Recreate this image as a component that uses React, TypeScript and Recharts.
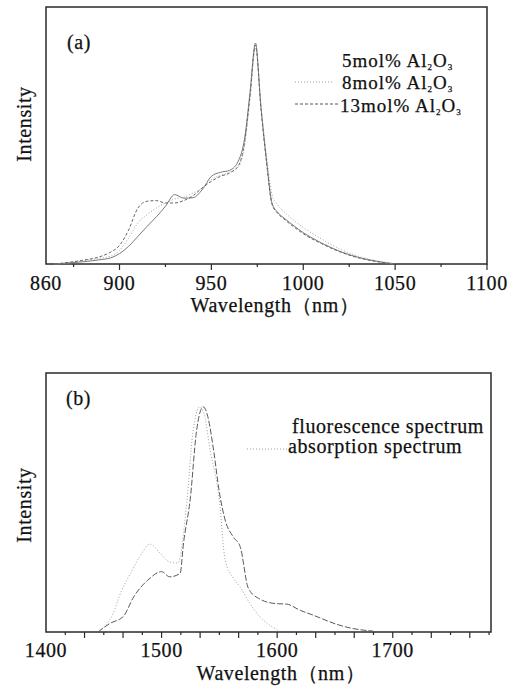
import { LineChart, Line, XAxis, YAxis, Customized } from 'recharts';

// (a) Yb emission for three Al2O3 contents
const wlA = [865, 870, 880, 890, 895, 900, 905, 910, 915, 920, 925, 930, 935, 940, 945, 950, 955, 960, 965, 968, 971, 974, 977, 980, 983, 986, 990, 995, 1000, 1010, 1020, 1030, 1040, 1050];
const al5 = [0, 0.003, 0.01, 0.02, 0.027, 0.047, 0.08, 0.125, 0.17, 0.213, 0.261, 0.314, 0.298, 0.3, 0.336, 0.397, 0.415, 0.424, 0.472, 0.563, 0.774, 1.0, 0.71, 0.47, 0.276, 0.235, 0.205, 0.172, 0.142, 0.095, 0.057, 0.03, 0.012, 0];
const al8 = [0, 0.004, 0.014, 0.027, 0.035, 0.062, 0.118, 0.186, 0.223, 0.253, 0.276, 0.294, 0.303, 0.321, 0.344, 0.382, 0.401, 0.415, 0.442, 0.533, 0.744, 0.98, 0.72, 0.49, 0.314, 0.268, 0.233, 0.196, 0.165, 0.113, 0.068, 0.035, 0.015, 0.002];
const al13 = [0, 0.005, 0.017, 0.035, 0.053, 0.084, 0.155, 0.253, 0.284, 0.287, 0.276, 0.276, 0.287, 0.309, 0.344, 0.374, 0.397, 0.412, 0.449, 0.548, 0.759, 0.99, 0.7, 0.46, 0.27, 0.23, 0.2, 0.167, 0.137, 0.092, 0.055, 0.028, 0.011, 0];
const ticksA = [860, 875, 900, 925, 950, 975, 1000, 1025, 1050, 1075, 1100];
const majorA = [900, 950, 1000, 1050, 1100];
const labelsA = [860, 900, 950, 1000, 1050, 1100];
const namesA = ['5mol%', '8mol%', '13mol%'];

// (b) Er fluorescence / absorption
const fluoWl = [1445, 1455, 1467, 1476, 1488, 1500, 1507, 1516, 1519, 1525, 1530, 1536, 1540, 1545, 1550, 1555, 1562, 1568, 1575, 1584, 1599, 1608, 1620, 1631, 1651, 1663, 1683];
const fluoI = [0, 0.037, 0.07, 0.157, 0.23, 0.268, 0.245, 0.26, 0.395, 0.6, 0.883, 1.0, 0.956, 0.807, 0.62, 0.497, 0.422, 0.379, 0.195, 0.149, 0.126, 0.124, 0.096, 0.075, 0.035, 0.018, 0.004];
const absWl = [1446, 1458, 1465, 1473, 1481, 1490, 1499, 1507, 1514, 1522, 1527, 1533, 1537, 1542, 1550, 1555, 1562, 1568, 1576, 1585, 1595, 1602];
const absI = [0.007, 0.081, 0.179, 0.259, 0.333, 0.39, 0.348, 0.311, 0.306, 0.586, 0.883, 1.0, 0.963, 0.807, 0.586, 0.32, 0.24, 0.2, 0.13, 0.068, 0.025, 0.005];
const ticksB = [1400, 1416.67, 1433.33, 1450, 1466.67, 1483.33, 1500, 1516.67, 1533.33, 1550, 1566.67, 1583.33, 1600, 1616.67, 1633.33, 1650, 1666.67, 1683.33, 1700, 1716.67, 1733.33, 1750, 1766.67, 1783.33];
const majorB = [1433.33, 1466.67, 1500, 1533.33, 1566.67, 1600, 1633.33, 1666.67, 1700, 1733.33, 1766.67];
const labelsB = [1400, 1500, 1600, 1700];
const namesB = ['fluorescence spectrum', 'absorption spectrum'];

const FONT = '"Liberation Serif", "Times New Roman", serif';
const INK = '#111';
const FRAME = '#2a2a2a';

const dataA = wlA.map((w, i) => ({ w, a5: al5[i], a8: al8[i], a13: al13[i] }));
const fluoData = fluoWl.map((w, i) => ({ w, v: fluoI[i] }));
const absData = absWl.map((w, i) => ({ w, v: absI[i] }));

const near = (list: number[], v: number) => list.some((m) => Math.abs(m - v) < 0.01);

const txt = { fontFamily: FONT, fontSize: 20, fill: INK, stroke: INK, strokeWidth: 0.25, letterSpacing: 0.6 };
const legTxt = { ...txt, fontSize: 19, letterSpacing: 1 };

const makeTick = (majors: number[], labels: number[], start: number, dy: number) => (props: any) => {
  const { x, y, payload } = props;
  const v = payload.value;
  return (
    <g>
      {v !== start && (
        <line x1={x} x2={x} y1={y} y2={y + (near(majors, v) ? 6 : 3)} stroke={FRAME} strokeWidth={1.2} />
      )}
      {near(labels, v) && (
        <text x={x} y={y + dy} textAnchor="middle" {...txt}>
          {Math.round(v)}
        </text>
      )}
    </g>
  );
};

const AlLabel = ({ x, y, pct }: { x: number; y: number; pct: string }) => (
  <text x={x} y={y} {...legTxt}>
    {pct} Al<tspan dy={3} fontSize={9}>2</tspan>
    <tspan dy={-3}>O</tspan>
    <tspan dy={3} fontSize={9}>3</tspan>
  </text>
);

const OverlayA = () => (
  <g>
    <rect x={46} y={7} width={441} height={257} fill="none" stroke={FRAME} strokeWidth={1.5} />
    <text x={67} y={49} {...txt}>(a)</text>
    <text x={31} y={124} textAnchor="middle" transform="rotate(-90, 31, 124)" {...txt}>Intensity</text>
    <text x={275} y={312} textAnchor="middle" {...txt}>Wavelength（nm）</text>
    <AlLabel x={342} y={67} pct={namesA[0]} />
    <line x1={295} x2={333} y1={82} y2={82} stroke="#9a9a9a" strokeDasharray="1 2" />
    <AlLabel x={342} y={89} pct={namesA[1]} />
    <line x1={295} x2={338} y1={104} y2={104} stroke="#555" strokeDasharray="3 2" />
    <AlLabel x={340} y={112} pct={namesA[2]} />
  </g>
);

const OverlayB = () => (
  <g>
    <rect x={46} y={28} width={445} height={259} fill="none" stroke={FRAME} strokeWidth={1.5} />
    <text x={66} y={60} {...txt}>(b)</text>
    <text x={31} y={160} textAnchor="middle" transform="rotate(-90, 31, 160)" {...txt}>Intensity</text>
    <text x={281} y={335} textAnchor="middle" {...txt}>Wavelength（nm）</text>
    <text x={292} y={88} {...txt}>{namesB[0]}</text>
    <line x1={247} x2={287} y1={104} y2={104} stroke="#9a9a9a" strokeDasharray="1 2" />
    <text x={288} y={108} {...txt}>{namesB[1]}</text>
  </g>
);

export default function App() {
  return (
    <div style={{ position: 'fixed', left: 0, top: 0, width: 510, height: 690, background: '#fff' }}>
      <div style={{ position: 'absolute', left: 0, top: 0 }}>
        <LineChart width={510} height={340} data={dataA} margin={{ top: 7, right: 23, bottom: 46, left: 46 }}>
          <XAxis
            dataKey="w"
            type="number"
            domain={[860, 1100]}
            ticks={ticksA}
            interval={0}
            height={30}
            tickSize={0}
            tickMargin={0}
            tickLine={false}
            axisLine={false}
            tick={makeTick(majorA, labelsA, 860, 26)}
          />
          <YAxis domain={[0, 1.163]} hide />
          <Line name="5mol% Al2O3" dataKey="a5" type="monotone" stroke="#7a7a7a" strokeWidth={1} dot={false} isAnimationActive={false} />
          <Line name="8mol% Al2O3" dataKey="a8" type="monotone" stroke="#a0a0a0" strokeWidth={1} strokeDasharray="1 2" dot={false} isAnimationActive={false} />
          <Line name="13mol% Al2O3" dataKey="a13" type="monotone" stroke="#666" strokeWidth={1} strokeDasharray="3 2" dot={false} isAnimationActive={false} />
          <Customized component={OverlayA} />
        </LineChart>
      </div>
      <div style={{ position: 'absolute', left: 0, top: 345 }}>
        <LineChart width={510} height={345} margin={{ top: 28, right: 19, bottom: 28, left: 46 }}>
          <XAxis
            dataKey="w"
            type="number"
            domain={[1400, 1785]}
            ticks={ticksB}
            interval={0}
            height={30}
            tickSize={0}
            tickMargin={0}
            tickLine={false}
            axisLine={false}
            allowDuplicatedCategory={false}
            tick={makeTick(majorB, labelsB, 1400, 25)}
          />
          <YAxis domain={[0, 1.15]} hide />
          <Line name="fluorescence spectrum" data={fluoData} dataKey="v" type="monotone" stroke="#5a5a5a" strokeWidth={1} strokeDasharray="6 2" dot={false} isAnimationActive={false} />
          <Line name="absorption spectrum" data={absData} dataKey="v" type="monotone" stroke="#a0a0a0" strokeWidth={1} strokeDasharray="1 2" dot={false} isAnimationActive={false} />
          <Customized component={OverlayB} />
        </LineChart>
      </div>
    </div>
  );
}
